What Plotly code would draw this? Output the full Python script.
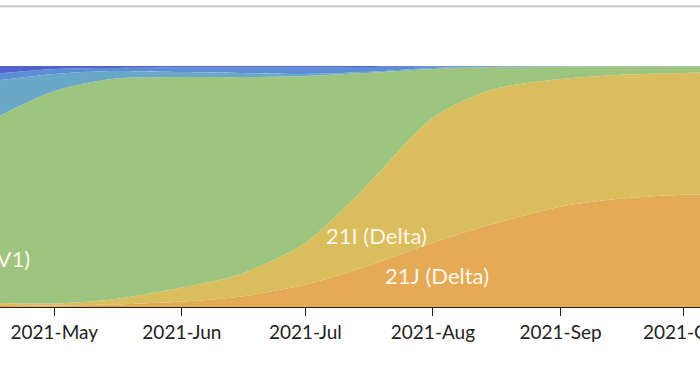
import plotly.graph_objects as go

dates = ["2021-04-15", "2021-05-01", "2021-05-15", "2021-06-01", "2021-06-15",
         "2021-07-01", "2021-07-15", "2021-08-01", "2021-08-15", "2021-09-01",
         "2021-09-15", "2021-10-01", "2021-10-10"]

# clade frequencies (stack order bottom -> top)
freq_21J = [0.010, 0.006, 0.010, 0.023, 0.043, 0.093, 0.164, 0.267, 0.342, 0.416, 0.449, 0.466, 0.466]
freq_21I = [0.007, 0.009, 0.021, 0.058, 0.092, 0.174, 0.323, 0.518, 0.558, 0.530, 0.514, 0.505, 0.509]
freq_20I = [0.753, 0.881, 0.915, 0.873, 0.819, 0.692, 0.484, 0.203, 0.096, 0.052, 0.036, 0.028, 0.024]
freq_teal = [0.165, 0.071, 0.033, 0.021, 0.017, 0.008, 0.004, 0.004, 0.001, 0.001, 0.0005, 0.0005, 0.0005]
freq_mblue = [0.030, 0.021, 0.013, 0.019, 0.023, 0.027, 0.021, 0.006, 0.002, 0.001, 0.0005, 0.0005, 0.0005]
freq_dblue = [0.035, 0.012, 0.008, 0.006, 0.006, 0.006, 0.004, 0.002, 0.001, 0.0, 0.0, 0.0, 0.0]

series = [
    ("21J (Delta)", freq_21J, "#E4AA56"),
    ("21I (Delta)", freq_21I, "#DABD5C"),
    ("20I (Alpha, V1)", freq_20I, "#9DC57F"),
    ("other A", freq_teal, "#6AA8C8"),
    ("other B", freq_mblue, "#5C8ED6"),
    ("other C", freq_dblue, "#5262CC"),
]

labels = [
    ("21I (Delta)", "2021-07-18 05:00", 0.296, "center"),
    ("21J (Delta)", "2021-08-02 02:00", 0.130, "center"),
    ("20I (Alpha, V1)", "2021-04-25 14:00", 0.20, "right"),
]

fig = go.Figure()
for name, vals, col in series:
    fig.add_trace(go.Scatter(
        x=dates, y=vals, name=name, stackgroup="one", mode="lines",
        line=dict(width=0, shape="spline", smoothing=0.8, color=col),
        fillcolor=col, hoverinfo="skip", showlegend=False))

for txt, xv, yv, anc in labels:
    fig.add_annotation(x=xv, y=yv, text=txt, showarrow=False, xanchor=anc,
                       yanchor="middle",
                       font=dict(family="Lato", size=22, color="#FDF6E8"))

fig.add_shape(type="line", xref="paper", yref="paper", x0=0, x1=1,
              y0=1.2484, y1=1.2484, line=dict(color="#C8C8C8", width=2))

fig.update_layout(
    width=700, height=382,
    margin=dict(l=0, r=0, t=66, b=74.5, autoexpand=False),
    paper_bgcolor="white", plot_bgcolor="white",
    xaxis=dict(type="date", range=["2021-04-17 19:26", "2021-10-04 21:20"],
               tick0="2021-05-01", dtick="M1", tickformat="%Y-%b",
               ticks="outside", ticklen=8, tickcolor="#222", tickwidth=1,
               showline=True, linecolor="#222", linewidth=1,
               showgrid=False, zeroline=False, ticklabeloverflow="allow",
               automargin=False,
               tickfont=dict(family="Lato", size=19, color="#222")),
    yaxis=dict(range=[0, 1], visible=False, showgrid=False, fixedrange=True),
)

fig.write_html("out.html", config={"displayModeBar": False},
               post_script="document.body.style.margin='0';document.body.style.overflow='hidden';")
